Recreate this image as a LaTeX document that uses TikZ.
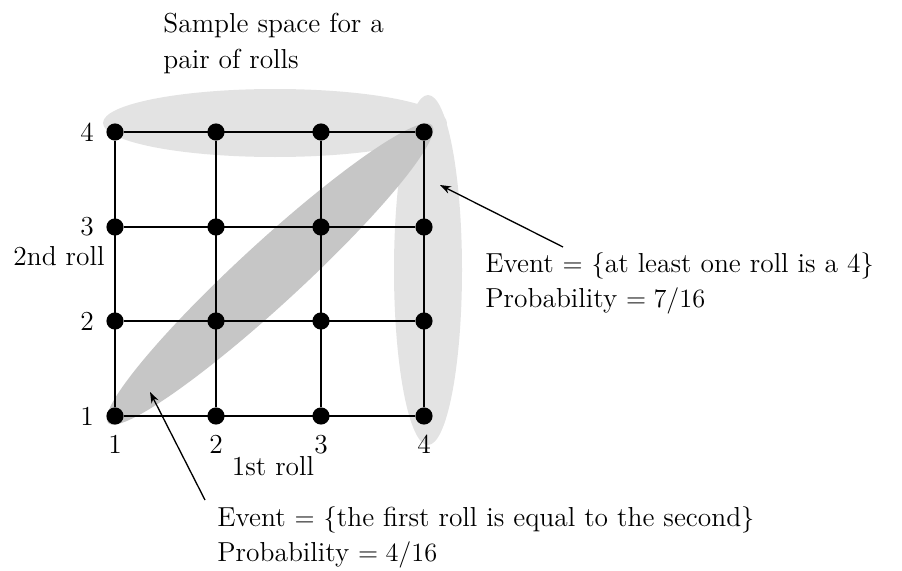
\documentclass[tikz,border=0pt]{standalone}
\usetikzlibrary{arrows.meta,positioning}

\begin{document}
\begin{tikzpicture}[x=0.016cm,y=-0.016cm,
    font=\fontsize{12.5}{16.3}\selectfont,
    gridline/.style={line width=1.2pt},
    dot/.style={circle,fill=black,inner sep=0pt,minimum size=7.8pt},
    pointer/.style={line width=0.6pt,-{Stealth[length=5pt,width=3.5pt]}},
    caption/.style={align=left,anchor=north west,inner sep=0pt}]
  \useasboundingbox (0,0) rectangle (902,571);
  % the two events
  \fill[gray!22] (275,123) ellipse [x radius=172,y radius=34];
  \fill[gray!22] (428,270) ellipse [x radius=34,y radius=175];
  \fill[gray!45,rotate around={42.6:(270,274)}] (270,274)
    ellipse [x radius=220,y radius=31];
  % sample space
  \foreach \i/\x in {1/115,2/216,3/321,4/424}
    \foreach \j/\y in {1/416,2/321,3/227,4/132}
      \node[dot] (d\i\j) at (\x,\y) {};
  \foreach \k in {1,...,4} {
    \draw[gridline] (d1\k) -- (d4\k);
    \draw[gridline] (d\k1) -- (d\k4);
    \node[left=2pt of d1\k] (ylab\k) {\k};
    \node[below=1pt of d\k1] (xlab\k) {\k};
  }
  \node[anchor=base east,inner sep=0pt] (yaxis) at (105,265) {2nd roll};
  \node[anchor=base,inner sep=0pt] (xaxis) at (273,475) {1st roll};
  \node[caption] (space) at (163,13) {Sample space for a\\pair of rolls};
  \node[caption] (evtfour) at (485,252)
    {Event $=$ $\{$at least one roll is a 4$\}$\\Probability $= 7/16$};
  \node[caption] (evtequal) at (217,506)
    {Event $=$ $\{$the first roll is equal to the second$\}$\\Probability $= 4/16$};
  \coordinate (tipfour) at (440,185);
  \coordinate (tipequal) at (150,392);
  \draw[pointer] (evtfour.north west) ++(78,-5) -- (tipfour);
  \draw[pointer] (evtequal.north west) ++(-12,-6) -- (tipequal);
\end{tikzpicture}
\end{document}
